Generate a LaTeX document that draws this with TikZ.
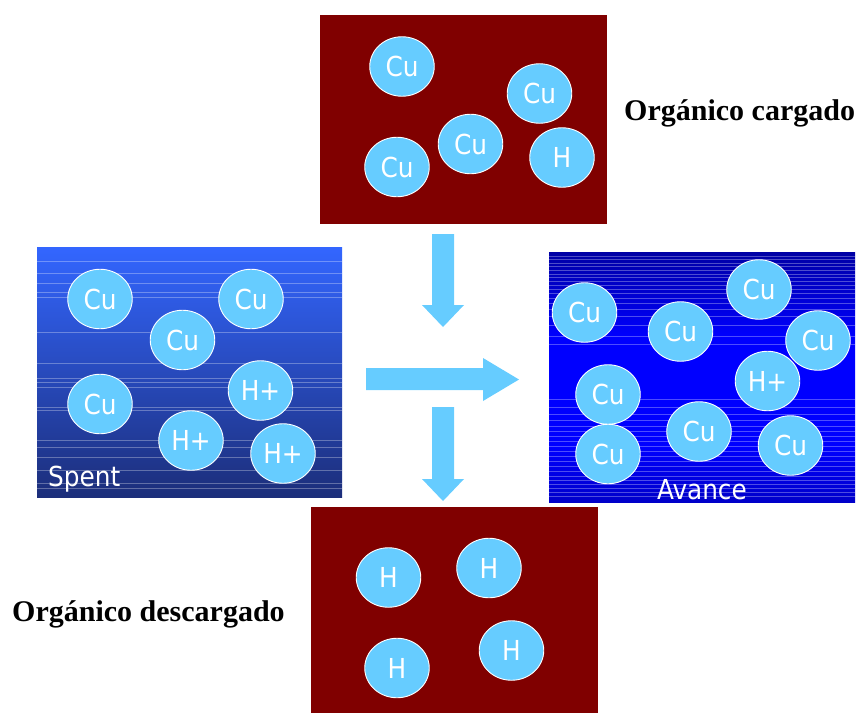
\documentclass[tikz,border=0pt]{standalone}
\usepackage{fontspec}
\setmainfont{Liberation Serif}
\newfontfamily\ionfont{DejaVu Sans Condensed}
\usetikzlibrary{shapes.geometric}

\definecolor{maroonbox}{RGB}{128,0,0}
\definecolor{ionblue}{RGB}{102,204,255}
\definecolor{spenttop}{RGB}{51,102,255}
\definecolor{spentbot}{RGB}{28,46,122}
\definecolor{navy}{RGB}{0,0,128}
\definecolor{pureblue}{RGB}{0,0,255}

% dark edges with a broad bright band in the middle
\pgfdeclareverticalshading{advanceshade}{100bp}{
  color(0bp)=(navy); color(10bp)=(navy); color(36bp)=(pureblue);
  color(58bp)=(pureblue); color(82bp)=(navy); color(100bp)=(navy)}

\tikzset{
  ion/.style={ellipse, fill=ionblue, draw=white, line width=0.9pt,
    minimum width=64.5pt, minimum height=59.5pt, inner sep=0pt,
    text=white, font=\ionfont\fontsize{27.5}{27.5}\selectfont},
  boxlabel/.style={text=white, inner sep=0pt, font=\ionfont\fontsize{27.5}{27.5}\selectfont},
  phaselabel/.style={inner sep=0pt, font=\bfseries\fontsize{30}{30}\selectfont},
  band/.style={white, opacity=0.3, line width=0.6pt},
  blockarrow/.style={fill=ionblue, draw=none}
}

\begin{document}
\begin{tikzpicture}[x=1pt,y=-1pt]
\useasboundingbox (0,0) rectangle (857,713);

% loaded organic phase
\fill[maroonbox] (320,15) rectangle (607,224);
\node[ion] (l1) at (402,66.5) {Cu};
\node[ion] (l2) at (539.5,93.5) {Cu};
\node[ion] (l3) at (470.5,144) {Cu};
\node[ion] (l4) at (397,167) {Cu};
\node[ion] (l5) at (562,157.5) {H};
\node[phaselabel, anchor=base west] (loaded) at (624,120) {Orgánico cargado};

% spent aqueous phase
\shade[top color=spenttop, bottom color=spentbot] (37,247) rectangle (342,497);
\foreach \y in {261,273,283,292,297,332,363,378,382,387,407,410,440,447,457,470,483,488}
  \draw[band] (37,\y) -- (342,\y);
\node[ion] (s1) at (100,299) {Cu};
\node[ion] (s2) at (251,299) {Cu};
\node[ion] (s3) at (182.5,340) {Cu};
\node[ion] (s4) at (100,404) {Cu};
\node[ion] (s5) at (260.5,390.5) {H+};
\node[ion] (s6) at (191,440.5) {H+};
\node[ion] (s7) at (283,453.5) {H+};
\node[boxlabel, anchor=base west] (spent) at (48,486) {Spent};

% advance aqueous phase
\shade[shading=advanceshade] (549,252) rectangle (855,502);
\foreach \y in {256,259,263,266,270,274,277,281,285,289,293,298,303,309,316,325,336,344,
                399,407,414,420,426,431,436,441,446,451,456,461,466,471,476,480,484,488,492,496}
  \draw[band] (549,\y) -- (855,\y);
\node[ion] (a1) at (584.5,312.5) {Cu};
\node[ion] (a2) at (759,289.5) {Cu};
\node[ion] (a3) at (680.5,331.5) {Cu};
\node[ion] (a4) at (818,340.5) {Cu};
\node[ion] (a5) at (767.5,381) {H+};
\node[ion] (a6) at (608,394.5) {Cu};
\node[ion] (a7) at (608,454) {Cu};
\node[ion] (a8) at (699,431.5) {Cu};
\node[ion] (a9) at (790.5,445.5) {Cu};
\node[boxlabel, anchor=base] (advance) at (702,499) {Avance};

% stripped organic phase
\fill[maroonbox] (311,507) rectangle (598,713);
\node[ion] (u1) at (388.5,577.5) {H};
\node[ion] (u2) at (489,568) {H};
\node[ion] (u3) at (397,668) {H};
\node[ion] (u4) at (511.5,650.5) {H};
\node[phaselabel, anchor=base west] (stripped) at (12,621) {Orgánico descargado};

% block arrows
\fill[blockarrow] (432,234) -- (454,234) -- (454,305) -- (464,305) -- (443,327)
  -- (422,305) -- (432,305) -- cycle;
\fill[blockarrow] (366,368) -- (483,368) -- (483,358) -- (519,379.5) -- (483,401)
  -- (483,390) -- (366,390) -- cycle;
\fill[blockarrow] (432,407) -- (454,407) -- (454,479) -- (464,479) -- (443,501)
  -- (422,479) -- (432,479) -- cycle;
\end{tikzpicture}
\end{document}
